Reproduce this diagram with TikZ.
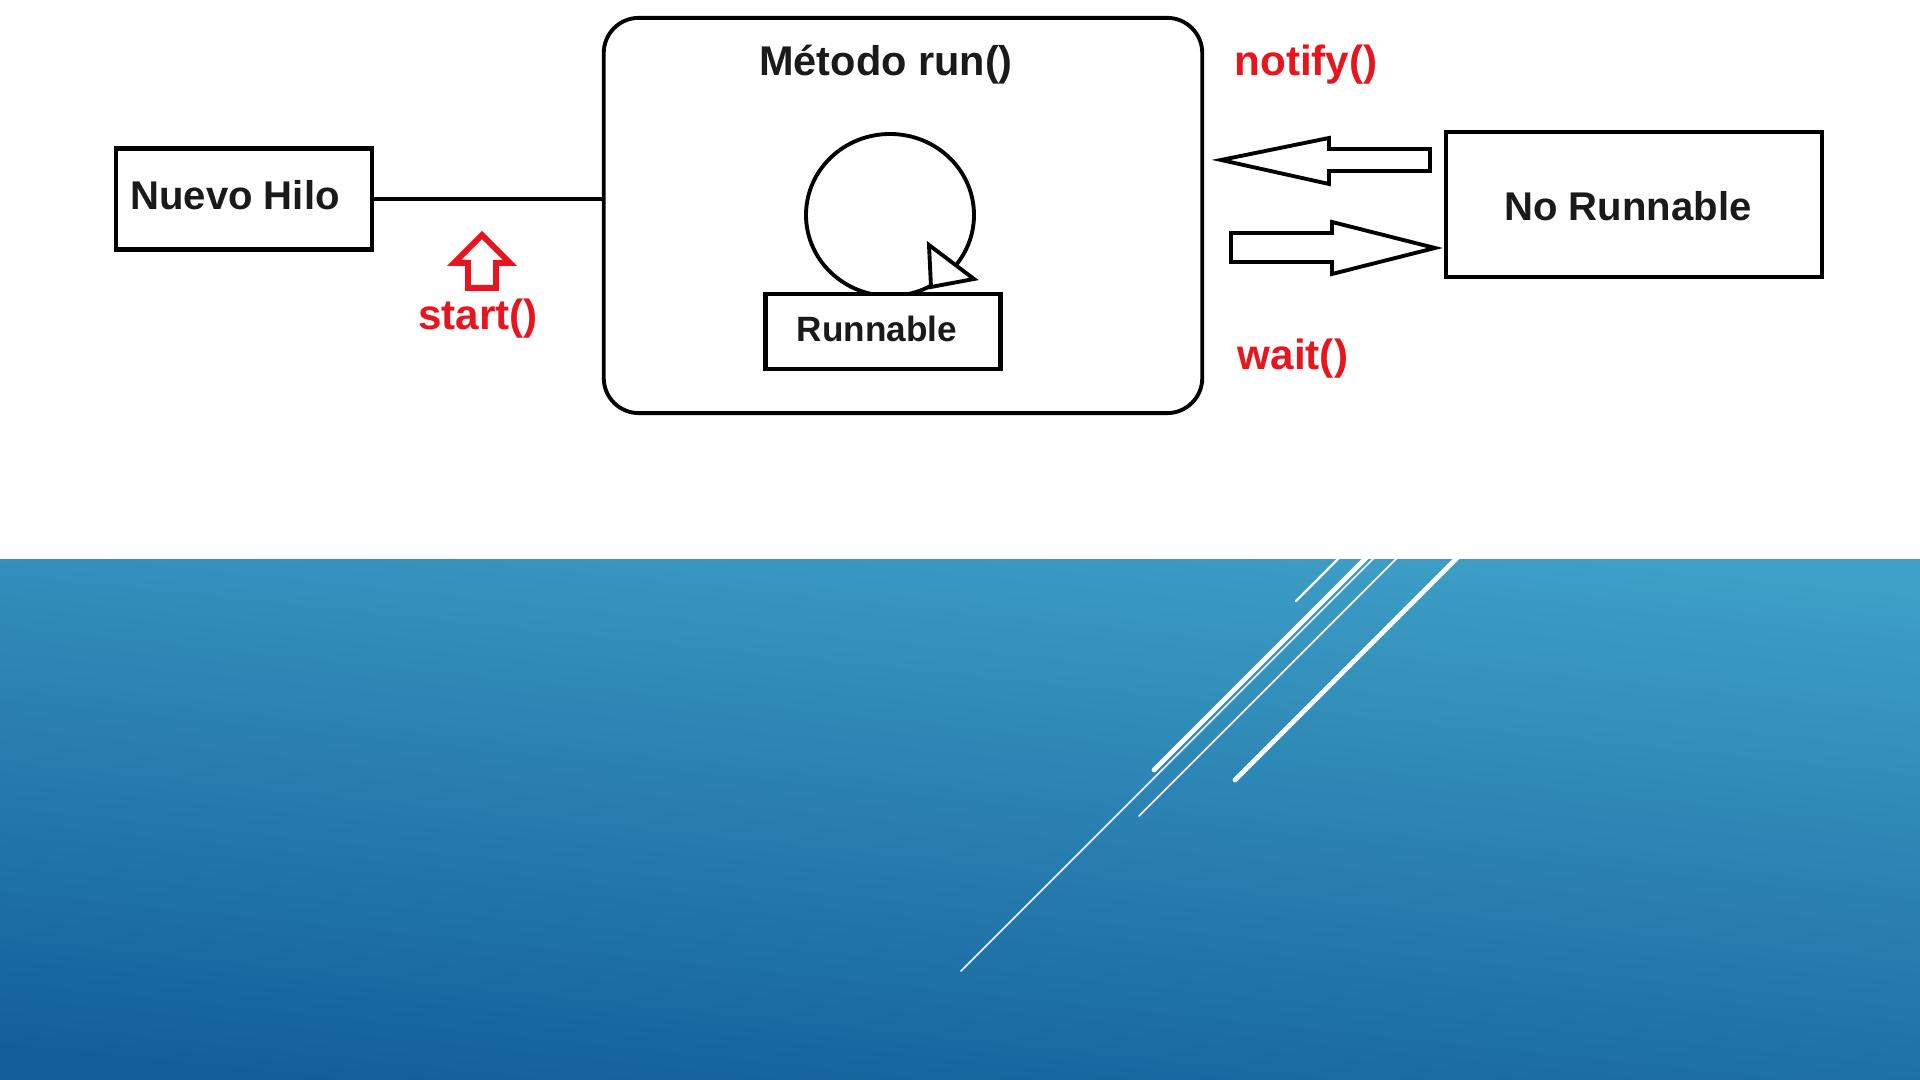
\documentclass[tikz,border=0pt]{standalone}
\usepackage{fontspec}
\setmainfont{Liberation Sans}
\definecolor{txt}{HTML}{1A1A1A}
\definecolor{redc}{HTML}{E8141E}
\definecolor{bandtop}{HTML}{3E9FC7}
\definecolor{bandbot}{HTML}{12609A}
\tikzset{
  boxnode/.style={draw=black, line width=1.4pt, fill=white, inner sep=0pt, text=txt,
    font=\fontsize{11.4}{13}\selectfont\bfseries},
  roundbox/.style={draw=black, line width=1.1pt, fill=white, inner sep=0pt, rounded corners=10pt},
  lbl/.style={inner sep=0pt, text=txt, font=\fontsize{11.4}{13}\selectfont\bfseries},
  redlbl/.style={inner sep=0pt, text=redc, font=\fontsize{12}{14}\selectfont\bfseries},
  conn/.style={draw=black, line width=1pt},
  blockarrow/.style={draw=black, line width=1.1pt, fill=white, line join=miter},
  wthick/.style={draw=white, line width=1.35pt, line cap=round},
  wthin/.style={draw=white, line width=0.45pt, line cap=round},
  wmid/.style={draw=white, line width=0.65pt, line cap=round}
}
\begin{document}
\begin{tikzpicture}[x=0.01cm,y=-0.01cm]
\useasboundingbox (0,0) rectangle (1920,1080);
\fill[white] (0,0) rectangle (1920,1080);
% blue band
\shade[top color=bandtop, bottom color=bandbot, shading angle=-6] (0,560) rectangle (1920,1080);
\begin{scope}
  \clip (0,560) rectangle (1920,1080);
  \draw[wmid] (1296,601) -- (1359,538);
  \draw[wthick] (1154,770) -- (1386,538);
  \draw[wthin] (961,971) -- (1395,537);
  \draw[wthin] (1139,816) -- (1419,536);
  \draw[wthick] (1235,780) -- (1479,536);
\end{scope}
% Nuevo Hilo
\node[boxnode, minimum width=72.8pt, minimum height=28.5pt] (hilo) at (244,199) {};
\node[lbl] (hilotxt) at (235,195) {Nuevo Hilo};
% big rounded box
\node[roundbox, minimum width=170.2pt, minimum height=112.4pt] (run) at (903,215.5) {};
\node[lbl, font=\fontsize{11.8}{13}\selectfont\bfseries] (runtxt) at (886,65) {Método run()};
% connector
\draw[conn] (hilo.east) -- (hilo.east -| run.west);
% loop
\draw[line width=1.1pt] (890,215) ellipse [x radius=84, y radius=81];
\draw[line width=1.1pt, fill=white, line join=miter] (929,245) -- (974,279) -- (931,287) -- cycle;
% Runnable
\node[boxnode, line width=1.3pt, font=\fontsize{10}{12}\selectfont\bfseries,
  minimum width=66.9pt, minimum height=21.3pt] (rnb) at (883,331.5) {};
\node[lbl, font=\fontsize{10}{12}\selectfont\bfseries] (rnbtxt) at (877,329) {Runnable};
% No Runnable
\node[boxnode, line width=1.3pt, minimum width=107pt, minimum height=41.3pt] (norun) at (1634,204.5) {};
\node[lbl] (noruntxt) at (1628,206) {No Runnable};
% block arrows
\draw[blockarrow] (1221,160) -- (1329,138) -- (1329,149) -- (1430,149) -- (1430,171)
  -- (1329,171) -- (1329,184) -- cycle;
\draw[blockarrow] (1231,233) -- (1332,233) -- (1332,222) -- (1435,248) -- (1332,274)
  -- (1332,262) -- (1231,262) -- cycle;
% red up arrow
\draw[draw=redc, line width=1.7pt, line join=miter] (482,235) -- (510,263) -- (496,263)
  -- (496,288) -- (468,288) -- (468,263) -- (454,263) -- cycle;
% red labels
\node[redlbl] (start) at (478,319) {start()};
\node[redlbl] (notify) at (1306,65) {notify()};
\node[redlbl] (wait) at (1293,359) {wait()};
\end{tikzpicture}
\end{document}
